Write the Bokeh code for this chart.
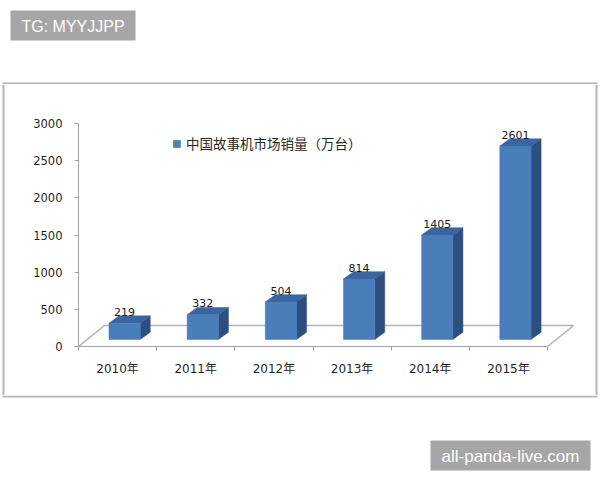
import numpy as np
from bokeh.plotting import figure
from bokeh.layouts import column, row
from bokeh.models import Range1d, FixedTicker, Legend, LegendItem
from bokeh.core.properties import value
from bokeh.embed import file_html
from bokeh.resources import INLINE

# ---- data ----
categories = ["2010年", "2011年", "2012年", "2013年", "2014年", "2015年"]
sales = [219, 332, 504, 814, 1405, 2601]
series_name = "中国故事机市场销量（万台）"
y_ticks = [0, 500, 1000, 1500, 2000, 2500, 3000]
watermark_top = "TG: MYYJJPP"
watermark_bottom = "all-panda-live.com"

n = len(categories)
pos = np.arange(n, dtype=float)
vals = np.array(sales, dtype=float)

# ---- page layout (pixels) ----
W, H = 600, 480
TOP_H, BOT_H = 84, 85
MID_H = H - TOP_H - BOT_H
SIDE_W = 8
CHART_W = W - 2 * SIDE_W
BORDER = "#b4b4b4"
WM_FILL = "#a6a6a6"

# frame of the chart inside the chart figure
FL, FR, FT, FB = 70, 572, 39, 262
X0, Y1 = -0.5, 3000.0
PX_PER_X = 469.0 / n
X1 = X0 + (FR - FL) / PX_PER_X

# ---- 3D style constants (axis units) ----
SHIFT = 0.09
WIDTH = 0.40
BASE = 95.0
BDX, BDY = 0.128, 98.0
FDX, FDY = 0.333, 282.0

CJK = "'DejaVu Sans', 'Noto Sans CJK SC'"


def no_align(f):
    if "frame_align" in f.properties():
        f.frame_align = False
    return f


def deco(width, height):
    f = figure(width=width, height=height, output_backend="svg",
               toolbar_location=None, x_range=Range1d(0, width),
               y_range=Range1d(height, 0), x_axis_type=None, y_axis_type=None,
               min_border=0)
    f.outline_line_color = None
    f.grid.visible = False
    f.background_fill_color = "white"
    f.border_fill_color = "white"
    return no_align(f)


# top strip: watermark + top edge of the chart box
top_fig = deco(W, TOP_H)
top_fig.quad(left=[10], right=[135], top=[10], bottom=[40],
             fill_color=WM_FILL, line_color=None)
top_fig.text(x=[72.5], y=[25.5], text=[watermark_top], text_align="center",
             text_baseline="middle", text_color="white",
             text_font=value("Liberation Sans"), text_font_size="16px")
top_fig.line(x=[2, 597], y=[83, 83], line_color=BORDER, line_width=2)

# side strips: vertical edges of the chart box
left_fig = deco(SIDE_W, MID_H)
left_fig.line(x=[3, 3], y=[0, MID_H], line_color=BORDER, line_width=2)
right_fig = deco(SIDE_W, MID_H)
right_fig.line(x=[4, 4], y=[0, MID_H], line_color=BORDER, line_width=2)

# bottom strip: bottom edge + watermark
bot_fig = deco(W, BOT_H)
bot_fig.line(x=[2, 597], y=[1, 1], line_color=BORDER, line_width=2)
bot_fig.quad(left=[430], right=[590], top=[45], bottom=[75],
             fill_color=WM_FILL, line_color=None)
bot_fig.text(x=[510], y=[60.5], text=[watermark_bottom], text_align="center",
             text_baseline="middle", text_color="white",
             text_font=value("Liberation Sans"), text_font_size="17px")

# ---- chart ----
p = figure(width=CHART_W, height=MID_H, output_backend="svg", toolbar_location=None,
           x_range=Range1d(X0, X1), y_range=Range1d(0, Y1),
           min_border_left=FL, min_border_right=CHART_W - FR,
           min_border_top=FT, min_border_bottom=MID_H - FB)
no_align(p)
p.xgrid.visible = False
p.ygrid.visible = False
p.outline_line_color = None
p.background_fill_color = "white"
p.border_fill_color = "white"

# floor outline
fx0, fx1 = -0.5, n - 0.5
p.line(x=[fx0, fx0 + FDX, fx1 + FDX, fx1], y=[0, FDY, FDY, 0],
       line_color="#b2b2b2", line_width=1.5)

# bars
L = pos + SHIFT - WIDTH / 2
R = pos + SHIFT + WIDTH / 2
top = BASE + vals
side_xs = [[r, r + BDX, r + BDX, r] for r in R]
side_ys = [[BASE, BASE + BDY, t + BDY, t] for t in top]
top_xs = [[l, r, r + BDX, l + BDX] for l, r in zip(L, R)]
top_ys = [[t, t, t + BDY, t + BDY] for t in top]
p.patches(side_xs, side_ys, fill_color="#2d4f7e", line_color="#2d4f7e", line_width=0.5)
p.patches(top_xs, top_ys, fill_color="#3b65a0", line_color="#3b65a0", line_width=0.5)
front = p.vbar(x=pos + SHIFT, bottom=BASE, top=top, width=WIDTH,
               fill_color="#4a7ebb", line_color="#4577b3", line_width=0.5)

# data labels
p.text(x=pos + SHIFT, y=top + BDY, text=[str(v) for v in sales],
       text_align="center", text_baseline="alphabetic", y_offset=-4,
       text_font=value("DejaVu Sans"), text_font_size="11px",
       text_color="#1a1a1a")

# axes
xa = p.xaxis[0]
xa.ticker = FixedTicker(ticks=[float(v) for v in pos],
                        minor_ticks=[float(v) - 0.5 for v in range(n + 1)])
xa.major_label_overrides = {i: c for i, c in enumerate(categories)}
xa.bounds = (-0.5, n - 0.5)
xa.major_tick_in = 0
xa.major_tick_out = 0
xa.minor_tick_in = 0
xa.minor_tick_out = 4
xa.axis_line_color = "#a0a0a0"
xa.minor_tick_line_color = "#a0a0a0"
xa.major_label_standoff = 11
xa.major_label_text_font = CJK
xa.major_label_text_font_size = "12px"
xa.major_label_text_color = "#1f1f1f"

ya = p.yaxis[0]
ya.ticker = FixedTicker(ticks=y_ticks)
ya.bounds = (0, Y1)
ya.major_tick_in = 0
ya.major_tick_out = 4
ya.minor_tick_in = 0
ya.minor_tick_out = 0
ya.major_label_standoff = 12
ya.axis_line_color = "#a0a0a0"
ya.major_tick_line_color = "#a0a0a0"
ya.major_label_text_font = "DejaVu Sans"
ya.major_label_text_font_size = "11.5px"
ya.major_label_text_color = "#1f1f1f"

# legend
legend = Legend(items=[LegendItem(label=series_name, renderers=[front])],
                location=(94, 193), orientation="vertical",
                glyph_width=9, glyph_height=9, label_standoff=5,
                label_text_font="Noto Sans CJK SC", label_text_font_size="13.5px",
                label_text_color="#262626", padding=0, margin=0, spacing=0,
                border_line_color=None, background_fill_alpha=0)
p.add_layout(legend)

middle = row(left_fig, column(p, spacing=0), right_fig, spacing=0)
page = column(top_fig, middle, bot_fig, spacing=0)

open("out.html", "w").write(file_html(page, INLINE))
